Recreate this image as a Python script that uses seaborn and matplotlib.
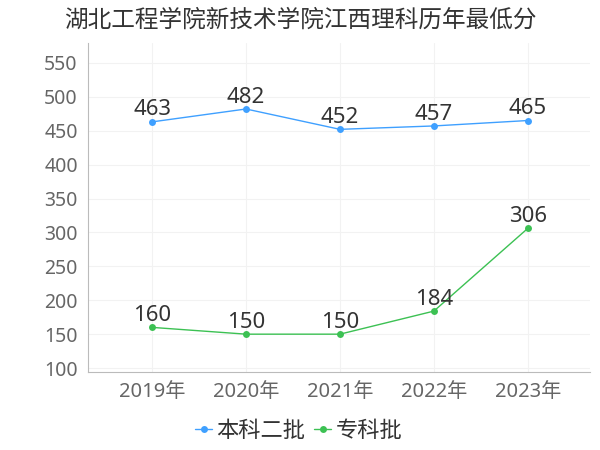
import pandas as pd
import matplotlib.pyplot as plt
import seaborn as sns

# data
years = ["2019年", "2020年", "2021年", "2022年", "2023年"]
benke = [463, 482, 452, 457, 465]      # 本科二批
zhuanke = [160, 150, 150, 184, 306]    # 专科批
series_names = ["本科二批", "专科批"]
colors = ["#3fa0ff", "#3cc153"]
y_ticks = [100, 150, 200, 250, 300, 350, 400, 450, 500, 550]

df = pd.DataFrame({"year": years * 2,
                   "score": benke + zhuanke,
                   "batch": [series_names[0]] * 5 + [series_names[1]] * 5})

sns.set_style("white")
plt.rcParams['font.family'] = ['Noto Sans', 'Noto Sans CJK SC', 'DejaVu Sans']

fig = plt.figure(figsize=(6, 4.5), dpi=100)
ax = fig.add_axes([0.147, 0.173, 0.836, 0.731])

sns.lineplot(data=df, x="year", y="score", hue="batch", palette=colors,
             marker="o", markersize=5, markeredgewidth=0, linewidth=1, ax=ax)

# value labels
for vals, col in [(benke, colors[0]), (zhuanke, colors[1])]:
    for i, v in enumerate(vals):
        ax.annotate(str(v), (i, v), xytext=(0, 1), textcoords="offset points",
                    ha="center", va="bottom", fontsize=16, color="#333333")

ax.set_ylim(94, 579)
ax.set_xlim(-0.68, 4.66)
ax.set_yticks(y_ticks)
ax.grid(True, color="#f2f2f2", linewidth=0.8)
ax.set_axisbelow(True)
for s in ["top", "right"]:
    ax.spines[s].set_visible(False)
for s in ["left", "bottom"]:
    ax.spines[s].set_color("#bbbbbb")
ax.tick_params(axis="both", colors="#bbbbbb", labelcolor="#666666",
               labelsize=14, length=4, direction="out")
ax.tick_params(axis="x", pad=3, labelsize=14.5)
ax.set_xlabel("")
ax.set_ylabel("")

ax.legend(loc="center", bbox_to_anchor=(0.42, -0.18), ncol=2, frameon=False,
          fontsize=16, handlelength=0.75, handletextpad=0.2, columnspacing=0.4,
          labelcolor="#333333", borderpad=0.1)

fig.text(0.5, 0.955, "湖北工程学院新技术学院江西理科历年最低分", ha="center", va="center",
         fontsize=17, color="#333333")

fig.savefig("out.png", dpi=100)
